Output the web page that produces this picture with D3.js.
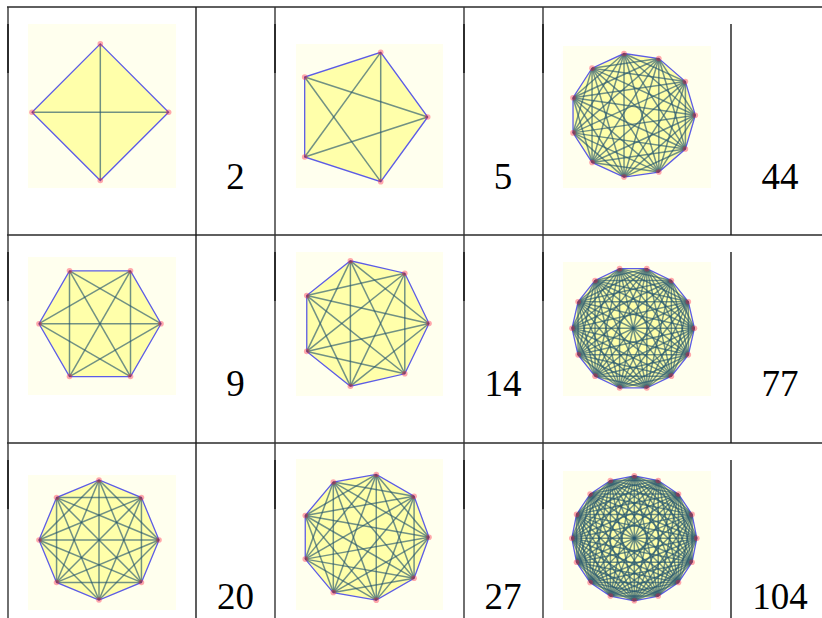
<!DOCTYPE html>
<html>
<head>
<meta charset="utf-8">
<script src="https://cdn.jsdelivr.net/npm/d3@7"></script>
<style>
  html, body { margin: 0; padding: 0; background: #fff; overflow: hidden; }
  svg { display: block; }
</style>
</head>
<body>
<div id="plot"></div>
<script>
// polygons, read across the rows of the table
const sides = [4, 5, 11, 6, 7, 14, 8, 9, 16];
const diagonalLabels = ["2", "5", "44", "9", "14", "77", "20", "27", "104"];

const width = 822, height = 618;

// table rules
const rowRules = [7, 235, 443];
const colRules = [8, 196, 275, 464, 543, 731];
const rowBaseline = [188.5, 396, 609];
const labelCentre = [235.5, 503, 780];

// where each picture sits in its cell: image box and polygon circle
const boxX = [[28, 176], [296, 443], [563, 711]];
const boxY = [[24, 188], [44, 188], [46, 188], [257, 395], [252, 396], [262, 396], [475, 610], [459, 610], [471, 610]];
const centreX = [100.3, 359.7, 632.9, 100, 364.7, 633.2, 99, 365.2, 634.3];
const centreY = [112.2, 117, 115.3, 323.7, 323.5, 328.3, 540, 537.3, 538.3];
const radius = [68.3, 68, 62.4, 61, 64.3, 61.2, 60, 63.8, 62.5];

const svg = d3.select("#plot").append("svg")
  .attr("width", width)
  .attr("height", height);

const defs = svg.append("defs");
defs.append("filter").attr("id", "soft")
  .attr("x", "-5%").attr("y", "-5%").attr("width", "110%").attr("height", "110%")
  .append("feGaussianBlur").attr("stdDeviation", 0.45);

// one picture per cell
sides.forEach(function(n, k) {
  const col = k % 3;
  const x = d3.scaleLinear().domain([-1, 1]).range([centreX[k] - radius[k], centreX[k] + radius[k]]);
  const y = d3.scaleLinear().domain([-1, 1]).range([centreY[k] - radius[k], centreY[k] + radius[k]]);
  const angle = d3.scaleLinear().domain([0, n]).range([0, 2 * Math.PI]);
  const verts = d3.range(n).map(i => [x(Math.cos(angle(i))), y(Math.sin(angle(i)))]);

  const diagonals = [];
  for (let i = 0; i < n; i++) {
    for (let j = i + 2; j < n; j++) {
      if (i === 0 && j === n - 1) continue;
      diagonals.push([verts[i], verts[j]]);
    }
  }

  svg.append("rect")
    .attr("x", boxX[col][0])
    .attr("y", boxY[k][0])
    .attr("width", boxX[col][1] - boxX[col][0])
    .attr("height", boxY[k][1] - boxY[k][0])
    .style("fill", "#ffffee");

  const g = svg.append("g").attr("filter", "url(#soft)");
  const outline = d3.line().curve(d3.curveLinearClosed);

  g.append("path")
    .attr("d", outline(verts))
    .style("fill", "#ffffaa")
    .style("stroke", "#5c5ce6")
    .style("stroke-width", 1.3);

  g.selectAll(".diag")
    .data(diagonals)
    .join("line")
      .attr("class", "diag")
      .attr("x1", d => d[0][0])
      .attr("y1", d => d[0][1])
      .attr("x2", d => d[1][0])
      .attr("y2", d => d[1][1])
      .style("stroke", "#25566f")
      .style("stroke-opacity", 0.65)
      .style("stroke-width", 1.5);

  g.selectAll(".vert")
    .data(verts)
    .join("circle")
      .attr("class", "vert")
      .attr("cx", d => d[0])
      .attr("cy", d => d[1])
      .attr("r", 2.8)
      .style("fill", "#ff2244")
      .style("fill-opacity", 0.4);
});

// labels
svg.selectAll(".count")
  .data(diagonalLabels)
  .join("text")
    .attr("class", "count")
    .attr("x", (d, k) => labelCentre[k % 3])
    .attr("y", (d, k) => rowBaseline[Math.floor(k / 3)])
    .attr("text-anchor", "middle")
    .style("font-family", "'Liberation Serif', serif")
    .style("font-size", "37px")
    .style("fill", "#000")
    .text(d => d);

// horizontal rules
svg.selectAll(".hrule")
  .data(rowRules)
  .join("line")
    .attr("class", "hrule")
    .attr("x1", 7)
    .attr("x2", width)
    .attr("y1", d => d)
    .attr("y2", d => d)
    .style("stroke", "#2a2a2a")
    .style("stroke-width", 1.7);

// vertical rules, each row has its own stretch
const rowTop = [7, 235, 443, height];
const imgTop = [24, 252, 460];
d3.range(3).forEach(function(r) {
  colRules.forEach(function(cx) {
    const last = cx === 731;
    svg.append("line")
      .attr("x1", cx).attr("x2", cx)
      .attr("y1", last ? imgTop[r] : rowTop[r])
      .attr("y2", rowTop[r + 1])
      .style("stroke", cx === 196 || last ? "#1a1a1a" : "#333")
      .style("stroke-width", 1.4);
    if (!last && cx !== 196) {
      svg.append("line")
        .attr("x1", cx).attr("x2", cx)
        .attr("y1", imgTop[r])
        .attr("y2", imgTop[r] + 49)
        .style("stroke", "#222")
        .style("stroke-width", 1.7);
    }
  });
});
</script>
</body>
</html>
